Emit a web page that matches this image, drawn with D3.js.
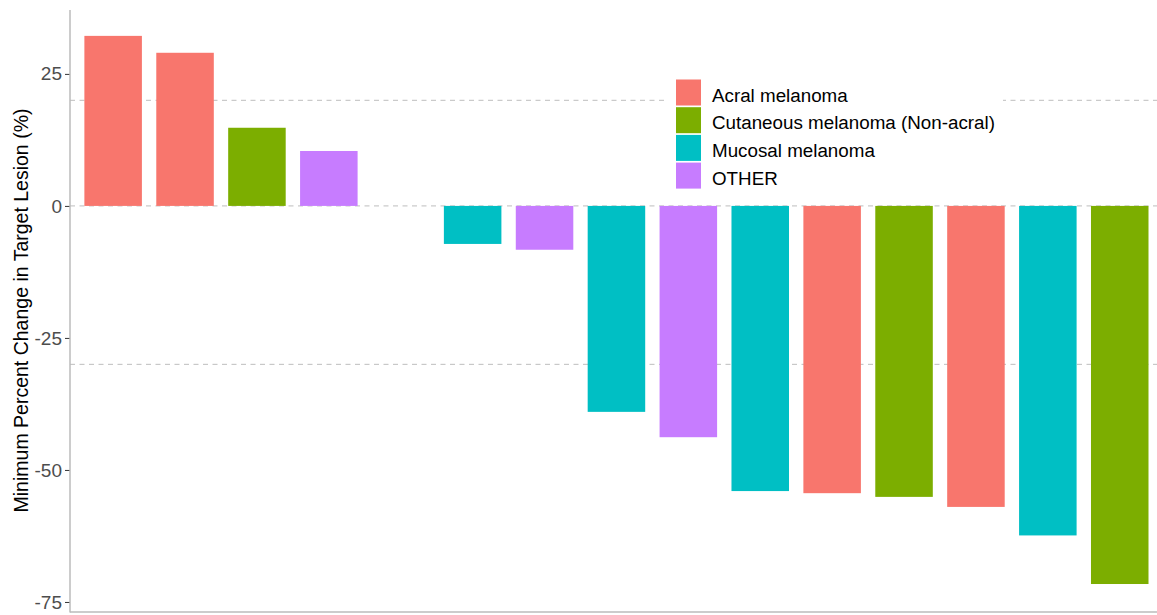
<!DOCTYPE html>
<html>
<head>
<meta charset="utf-8">
<script src="https://cdn.jsdelivr.net/npm/d3@7"></script>
<style>
  body { margin: 0; background: #fff; }
  text { font-family: "Liberation Sans", Arial, sans-serif; }
</style>
</head>
<body>
<div id="chart"></div>
<script>
// Data_____________________________________________
const patients = d3.range(1, 16).map(String);
const changes = [32.2, 29.0, 14.8, 10.4, 0, -7.2, -8.3, -39.0, -43.8, -54.0, -54.4, -55.1, -57.0, -62.4, -71.6];
const types = ["Acral melanoma", "Acral melanoma", "Cutaneous melanoma (Non-acral)", "OTHER", "OTHER",
    "Mucosal melanoma", "OTHER", "Mucosal melanoma", "OTHER", "Mucosal melanoma",
    "Acral melanoma", "Cutaneous melanoma (Non-acral)", "Acral melanoma", "Mucosal melanoma", "Cutaneous melanoma (Non-acral)"];
const legendLabels = ["Acral melanoma", "Cutaneous melanoma (Non-acral)", "Mucosal melanoma", "OTHER"];
const legendColors = ["#F8766D", "#7CAE00", "#00BFC4", "#C77CFF"];
const yTicks = [-75, -50, -25, 0, 25];
const refLines = [20, 0, -30];

let data = patients.map((p, i) => ({ id: p, value: changes[i], type: types[i] }));

// Sizes____________________________________________
const width = 1157;
const height = 615;
const padLeft = 70, padTop = 10, padBottom = 612;

const svg = d3.select("#chart").append("svg")
    .attr("width", width)
    .attr("height", height);

// Scales___________________________________________
const xScale = d3.scaleBand()
    .domain(patients)
    .range([padLeft, padLeft + 71.9 * 15.2])
    .paddingInner(0.2)
    .paddingOuter(0.2);

const yScale = d3.scaleLinear()
    .domain([-76.9, 37.1])
    .range([padBottom, padTop]);

const color = d3.scaleOrdinal().domain(legendLabels).range(legendColors);

// Reference lines__________________________________
svg.selectAll(".ref")
    .data(refLines)
    .enter()
    .append("line")
    .attr("class", "ref")
    .attr("x1", padLeft)
    .attr("x2", width)
    .attr("y1", d => yScale(d))
    .attr("y2", d => yScale(d))
    .attr("stroke", "#bdbdbd")
    .attr("stroke-width", 1)
    .attr("stroke-dasharray", "5,4.5");

// Bars_____________________________________________
svg.selectAll(".bar")
    .data(data)
    .enter()
    .append("rect")
    .attr("class", "bar")
    .attr("x", d => xScale(d.id))
    .attr("width", xScale.bandwidth())
    .attr("y", d => yScale(Math.max(0, d.value)))
    .attr("height", d => Math.abs(yScale(d.value) - yScale(0)))
    .attr("fill", d => color(d.type));

// Axes_____________________________________________
const yAxis = d3.axisLeft(yScale)
    .tickValues(yTicks)
    .tickSize(5)
    .tickPadding(3)
    .tickFormat(d => String(d));

const gy = svg.append("g")
    .attr("transform", `translate(${padLeft},0)`)
    .call(yAxis);
gy.select(".domain").remove();
gy.selectAll(".tick line").attr("stroke", "#333").attr("stroke-width", 1);
gy.selectAll(".tick text")
    .attr("fill", "#4d4d4d")
    .style("font-size", "19px");

svg.append("line")
    .attr("x1", padLeft).attr("x2", padLeft)
    .attr("y1", padTop).attr("y2", padBottom + 0.5)
    .attr("stroke", "#bbbbbb").attr("stroke-width", 1.5);

svg.append("line")
    .attr("x1", padLeft).attr("x2", width)
    .attr("y1", padBottom).attr("y2", padBottom)
    .attr("stroke", "#bbbbbb").attr("stroke-width", 1.5);

svg.append("text")
    .attr("transform", `translate(28, 310.5) rotate(-90)`)
    .attr("text-anchor", "middle")
    .style("font-size", "19.5px")
    .attr("fill", "#000")
    .text("Minimum Percent Change in Target Lesion (%)");

// Legend___________________________________________
let legend = svg.append("g")
    .attr("transform", "translate(664, 75)");

legend.append("rect")
    .attr("width", 339)
    .attr("height", 120)
    .attr("fill", "#fff");

legend.selectAll(".key")
    .data(legendLabels)
    .enter()
    .append("rect")
    .attr("class", "key")
    .attr("x", 12)
    .attr("y", (d, i) => 4.5 + i * 27.7)
    .attr("width", 25)
    .attr("height", 26)
    .attr("fill", d => color(d));

legend.selectAll(".label")
    .data(legendLabels)
    .enter()
    .append("text")
    .attr("class", "label")
    .attr("x", 48)
    .attr("y", (d, i) => 20 + i * 27.7)
    .attr("dy", "0.35em")
    .style("font-size", "18.8px")
    .attr("fill", "#000")
    .text(d => d);
</script>
</body>
</html>
